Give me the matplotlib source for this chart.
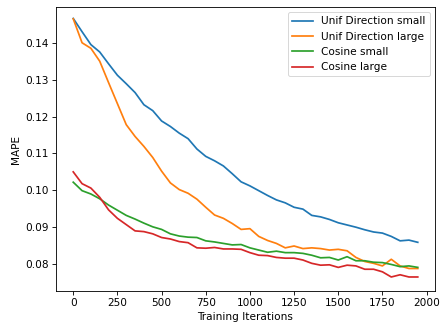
import matplotlib
matplotlib.use("Agg")
import matplotlib.pyplot as plt
import numpy as np

iterations = list(range(0, 2000, 50))

unif_small = [0.1466, 0.1430, 0.1395, 0.1375, 0.1343, 0.1312, 0.1289, 0.1265, 0.1232, 0.1216,
              0.1188, 0.1173, 0.1155, 0.1140, 0.1112, 0.1092, 0.1080, 0.1066, 0.1045, 0.1023,
              0.1012, 0.0999, 0.0986, 0.0974, 0.0966, 0.0954, 0.0949, 0.0932, 0.0928, 0.0921,
              0.0912, 0.0906, 0.0900, 0.0893, 0.0887, 0.0884, 0.0875, 0.0863, 0.0865, 0.0859]

unif_large = [0.1465, 0.1400, 0.1385, 0.1350, 0.1292, 0.1235, 0.1178, 0.1146, 0.1119, 0.1089,
              0.1052, 0.1020, 0.1002, 0.0992, 0.0976, 0.0954, 0.0933, 0.0924, 0.0910, 0.0894,
              0.0896, 0.0875, 0.0864, 0.0856, 0.0844, 0.0849, 0.0842, 0.0844, 0.0842, 0.0838,
              0.0840, 0.0836, 0.0818, 0.0807, 0.0802, 0.0795, 0.0813, 0.0795, 0.0788, 0.0788]

cos_small = [0.1022, 0.0999, 0.0990, 0.0977, 0.0960, 0.0946, 0.0932, 0.0922, 0.0911, 0.0901,
             0.0894, 0.0882, 0.0876, 0.0873, 0.0872, 0.0863, 0.0860, 0.0856, 0.0852, 0.0853,
             0.0844, 0.0838, 0.0832, 0.0835, 0.0831, 0.0831, 0.0829, 0.0824, 0.0817, 0.0818,
             0.0811, 0.0820, 0.0809, 0.0809, 0.0805, 0.0804, 0.0799, 0.0793, 0.0795, 0.0791]

cos_large = [0.1050, 0.1018, 0.1006, 0.0981, 0.0947, 0.0924, 0.0907, 0.0890, 0.0888, 0.0882,
             0.0872, 0.0868, 0.0861, 0.0858, 0.0844, 0.0843, 0.0845, 0.0841, 0.0841, 0.0840,
             0.0831, 0.0824, 0.0823, 0.0818, 0.0816, 0.0816, 0.0811, 0.0802, 0.0797, 0.0798,
             0.0791, 0.0797, 0.0795, 0.0786, 0.0786, 0.0779, 0.0765, 0.0771, 0.0765, 0.0765]

labels = ["Unif Direction small", "Unif Direction large", "Cosine small", "Cosine large"]

plt.rcParams["font.size"] = 11.0
plt.rcParams["axes.linewidth"] = 0.9
plt.rcParams["xtick.major.size"] = 4
plt.rcParams["ytick.major.size"] = 4
plt.rcParams["xtick.major.width"] = 0.9
plt.rcParams["ytick.major.width"] = 0.9

fig = plt.figure(figsize=(6.4, 325 / 68.75), dpi=68.75)
ax = fig.add_axes([56 / 440, 1 - 291 / 325, (435 - 56) / 440, (291 - 7) / 325])
for series, lab in zip([unif_small, unif_large, cos_small, cos_large], labels):
    ax.plot(iterations, series, label=lab, lw=1.8)

ax.set_xlabel("Training Iterations")
ax.set_ylabel("MAPE")
ax.set_xticks([0, 250, 500, 750, 1000, 1250, 1500, 1750, 2000])
ax.set_xlim(-97.5, 2047.5)
ax.set_ylim(0.0727, 0.1497)
ax.legend(loc="upper right")
fig.savefig("out.png", dpi=68.75)
